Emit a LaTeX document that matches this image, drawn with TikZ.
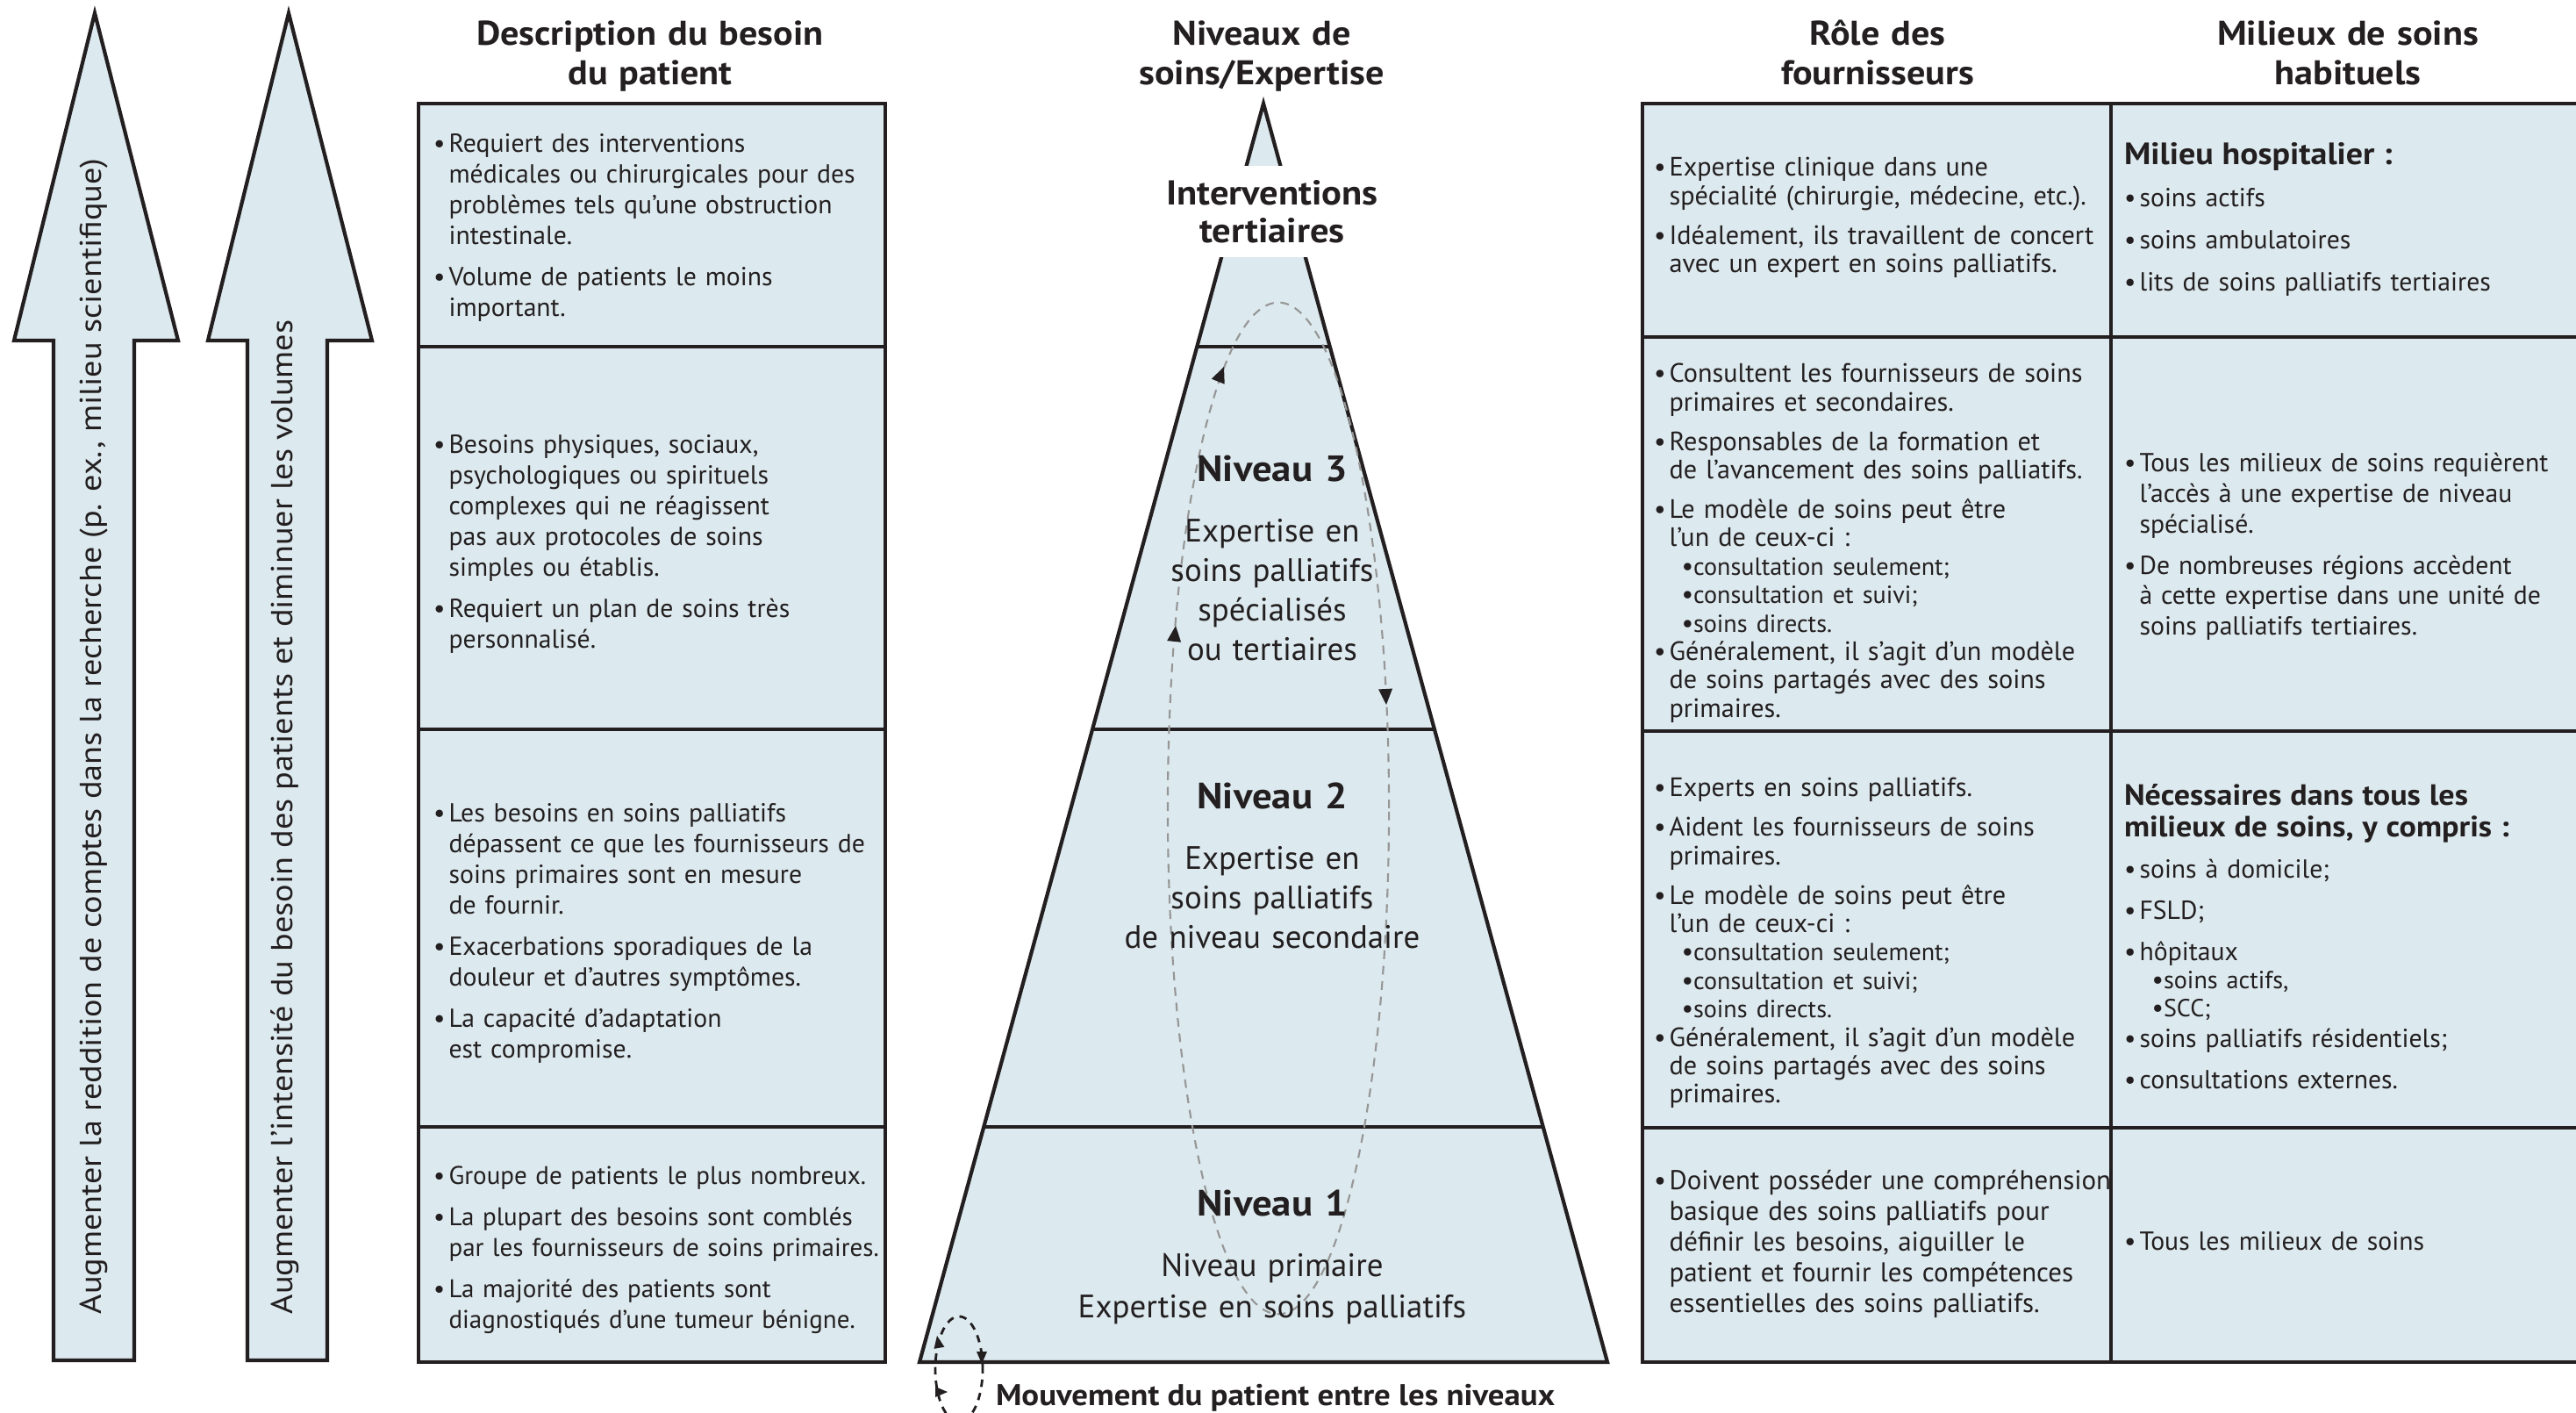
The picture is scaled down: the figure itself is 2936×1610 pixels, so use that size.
\documentclass[tikz,border=0pt]{standalone}
\usepackage{fontspec}
\setmainfont{PT Sans}[BoldFeatures={FakeStretch=1.08}]
\usetikzlibrary{calc}
\definecolor{cellfill}{RGB}{220,233,238}
\definecolor{ink}{RGB}{35,31,32}
\definecolor{loopgray}{RGB}{150,150,150}
\newcommand\bu{\makebox[5pt][l]{•}}
\newcommand\nb{\hspace*{5pt}}
\newcommand\sbu{\hspace*{9pt}\makebox[3.8pt][l]{•}}
\newcommand\sfs{\fontsize{8}{9.2}\selectfont}
\tikzset{
  frame/.style={draw=ink, line width=1.2pt, fill=cellfill},
  sepline/.style={draw=ink, line width=0.9pt},
  txt/.style={inner sep=0pt, outer sep=0pt, text=ink, yshift=9.9pt,
     execute at begin node={\rule{0pt}{11pt}}},
  cellL/.style={txt, anchor=north west, align=left, text width=#1},
  cellC/.style={txt, anchor=north, align=center, text width=300pt},
  body/.style={font=\fontsize{8.45}{9.95}\selectfont},
  rolebody/.style={font=\fontsize{8.6}{9.2}\selectfont},
  milbody/.style={font=\fontsize{8.45}{9.85}\selectfont},
  head/.style={cellC, font=\bfseries\fontsize{11.1}{12.8}\selectfont},
  lvl/.style={cellC, font=\bfseries\fontsize{11.8}{13}\selectfont},
  lvltext/.style={cellC, font=\fontsize{10.5}{12.8}\selectfont},
  arrowtext/.style={rotate=90, anchor=base west, inner sep=0pt, text=ink, font=\fontsize{9.8}{11}\selectfont},
  ahead/.style={fill=ink},
}
\begin{document}
\begin{tikzpicture}[x=0.01cm,y=-0.01cm]
\useasboundingbox (0,0) rectangle (2936,1610);

% ---- big arrows
\draw[frame] (108,15) -- (203,388) -- (153,388) -- (153,1550) -- (61,1550) -- (61,388) -- (16,388) -- cycle;
\draw[frame] (329,15) -- (424,388) -- (373,388) -- (373,1550) -- (282,1550) -- (282,388) -- (237,388) -- cycle;
\node[arrowtext] (a1t) at (115,1498) {\scalebox{1.11}[1]{Augmenter la reddition de comptes dans la recherche (p. ex., milieu scientifique)}};
\node[arrowtext] (a2t) at (333,1498) {\scalebox{1.11}[1]{Augmenter l’intensité du besoin des patients et diminuer les volumes}};

% ---- headings
\node[head] (h1) at (741,48) {Description du besoin\\du patient};
\node[head] (h2) at (1438,48) {Niveaux de\\soins/Expertise};
\node[head] (h3) at (2140,48) {Rôle des\\fournisseurs};
\node[head] (h4) at (2676,48) {Milieux de soins\\habituels};

% ---- left table
\path[frame] (477,118) rectangle (1009,1552);
\draw[sepline] (477,395) -- (1009,395);
\draw[sepline] (477,831) -- (1009,831);
\draw[sepline] (477,1284) -- (1009,1284);

\node[cellL=200pt, body] (d1) at (494,170) {\bu Requiert des interventions\\
\nb médicales ou chirurgicales pour des\\
\nb problèmes tels qu’une obstruction\\
\nb intestinale.\\[3.4pt]
\bu Volume de patients le moins\\
\nb important.};
\node[cellL=200pt, body] (d2) at (494,513) {\bu Besoins physiques, sociaux,\\
\nb psychologiques ou spirituels\\
\nb complexes qui ne réagissent\\
\nb pas aux protocoles de soins\\
\nb simples ou établis.\\[3.4pt]
\bu Requiert un plan de soins très\\
\nb personnalisé.};
\node[cellL=200pt, body] (d3) at (494,933) {\bu Les besoins en soins palliatifs\\
\nb dépassent ce que les fournisseurs de\\
\nb soins primaires sont en mesure\\
\nb de fournir.\\[3.4pt]
\bu Exacerbations sporadiques de la\\
\nb douleur et d’autres symptômes.\\[3.4pt]
\bu La capacité d’adaptation\\
\nb est compromise.};
\node[cellL=200pt, font=\fontsize{8.25}{9.95}\selectfont] (d4) at (494,1346) {\bu Groupe de patients le plus nombreux.\\[3.4pt]
\bu La plupart des besoins sont comblés\\
\nb par les fournisseurs de soins primaires.\\[3.4pt]
\bu La majorité des patients sont\\
\nb diagnostiqués d’une tumeur bénigne.};

% ---- pyramid
\coordinate (apex) at (1440,118);
\coordinate (bl) at (1048,1552);
\coordinate (br) at (1832,1552);
\draw[frame] (apex) -- (br) -- (bl) -- cycle;
\draw[sepline] ($(apex)!0.19317!(bl)$) -- ($(apex)!0.19317!(br)$);
\draw[sepline] ($(apex)!0.49721!(bl)$) -- ($(apex)!0.49721!(br)$);
\draw[sepline] ($(apex)!0.81311!(bl)$) -- ($(apex)!0.81311!(br)$);
\fill[white] (1360,189) rectangle (1535,293);
\node[cellC, font=\bfseries\fontsize{11.2}{12.2}\selectfont] (it) at (1450,230) {Interventions\\tertiaires};

% dashed movement loop
\draw[loopgray, line width=0.6pt, dash pattern=on 2.8pt off 2.2pt] (1457,921) ellipse [x radius=1.26cm, y radius=5.76cm];
\fill[ahead, shift={(1395,418)}, rotate=68] (0,0) -- (-18,-8) -- (-18,8) -- cycle;
\fill[ahead, shift={(1340,713)}, rotate=84] (0,0) -- (-18,-8) -- (-18,8) -- cycle;
\fill[ahead, shift={(1580,803)}, rotate=-87] (0,0) -- (-18,-8) -- (-18,8) -- cycle;

\node[lvl] (n3) at (1450,545) {Niveau 3};
\node[lvltext] (n3t) at (1450,614) {Expertise en\\soins palliatifs\\spécialisés\\ou tertiaires};
\node[lvl] (n2) at (1450,918) {Niveau 2};
\node[lvltext] (n2t) at (1450,987) {Expertise en\\soins palliatifs\\de niveau secondaire};
\node[lvl] (n1) at (1450,1382) {Niveau 1};
\node[lvltext, font=\fontsize{10.5}{13.3}\selectfont] (n1t) at (1450,1451) {Niveau primaire\\Expertise en soins palliatifs};

% small legend loop
\draw[ink, line width=0.8pt, dash pattern=on 2.4pt off 2pt] (1093,1560) ellipse [x radius=0.27cm, y radius=0.6cm];
\fill[ahead, shift={(1068,1522)}, rotate=100] (0,0) -- (-14,-6) -- (-14,6) -- cycle;
\fill[ahead, shift={(1119,1554)}, rotate=-90] (0,0) -- (-14,-6) -- (-14,6) -- cycle;
\fill[ahead, shift={(1080,1586)}, rotate=0] (0,0) -- (-14,-6) -- (-14,6) -- cycle;
\node[txt, anchor=north west, font=\bfseries\fontsize{9.7}{11}\selectfont] (cap) at (1135,1598) {Mouvement du patient entre les niveaux};

% ---- right table
\fill[cellfill] (1872,118) rectangle (2936,1552);
\draw[ink, line width=1.2pt] (2936,118) -- (1872,118) -- (1872,1552) -- (2936,1552);
\draw[sepline] (1872,384) -- (2936,384);
\draw[sepline] (1872,833) -- (2936,833);
\draw[sepline] (1872,1285) -- (2936,1285);
\draw[ink, line width=1.1pt] (2406,118) -- (2406,1552);

\node[cellL=200pt, rolebody] (r1) at (1885,197) {\bu Expertise clinique dans une\\
\nb spécialité (chirurgie, médecine, etc.).\\[3.6pt]
\bu Idéalement, ils travaillent de concert\\
\nb avec un expert en soins palliatifs.};
\node[cellL=200pt, rolebody] (r2) at (1885,432) {\bu Consultent les fournisseurs de soins\\
\nb primaires et secondaires.\\[3.6pt]
\bu Responsables de la formation et\\
\nb de l’avancement des soins palliatifs.\\[3.6pt]
\bu Le modèle de soins peut être\\
\nb l’un de ceux-ci :\\
\sbu{\sfs consultation seulement;}\\
\sbu{\sfs consultation et suivi;}\\
\sbu{\sfs soins directs.}\\
\bu Généralement, il s’agit d’un modèle\\
\nb de soins partagés avec des soins\\
\nb primaires.};
\node[cellL=200pt, rolebody] (r3) at (1885,904) {\bu Experts en soins palliatifs.\\[3.6pt]
\bu Aident les fournisseurs de soins\\
\nb primaires.\\[3.6pt]
\bu Le modèle de soins peut être\\
\nb l’un de ceux-ci :\\
\sbu{\sfs consultation seulement;}\\
\sbu{\sfs consultation et suivi;}\\
\sbu{\sfs soins directs.}\\
\bu Généralement, il s’agit d’un modèle\\
\nb de soins partagés avec des soins\\
\nb primaires.};
\node[cellL=200pt, font=\fontsize{8.8}{9.9}\selectfont] (r4) at (1885,1352) {\bu Doivent posséder une compréhension\\
\nb basique des soins palliatifs pour\\
\nb définir les besoins, aiguiller le\\
\nb patient et fournir les compétences\\
\nb essentielles des soins palliatifs.};

\node[cellL=200pt, milbody] (m1) at (2421,184) {{\bfseries\fontsize{10}{10}\selectfont Milieu hospitalier :}\\[3.8pt]
\bu soins actifs\\[3.7pt]
\bu soins ambulatoires\\[3.7pt]
\bu lits de soins palliatifs tertiaires};
\node[cellL=200pt, milbody] (m2) at (2421,534) {\bu Tous les milieux de soins requièrent\\
\nb l’accès à une expertise de niveau\\
\nb spécialisé.\\[3.5pt]
\bu De nombreuses régions accèdent\\
\nb à cette expertise dans une unité de\\
\nb soins palliatifs tertiaires.};
\node[cellL=200pt, milbody] (m3) at (2421,914) {{\bfseries\fontsize{9.5}{10}\selectfont Nécessaires dans tous les}\\[0.2pt]
{\bfseries\fontsize{9.5}{10}\selectfont milieux de soins, y compris :}\\[3.5pt]
\bu soins à domicile;\\[3.6pt]
\bu FSLD;\\[3.6pt]
\bu hôpitaux\\[-0.8pt]
\sbu{\sfs soins actifs,}\\[-0.8pt]
\sbu{\sfs SCC;}\\[0.2pt]
\bu soins palliatifs résidentiels;\\[3.5pt]
\bu consultations externes.};
\node[cellL=200pt, milbody] (m4) at (2421,1421) {\bu Tous les milieux de soins};

\end{tikzpicture}
\end{document}
